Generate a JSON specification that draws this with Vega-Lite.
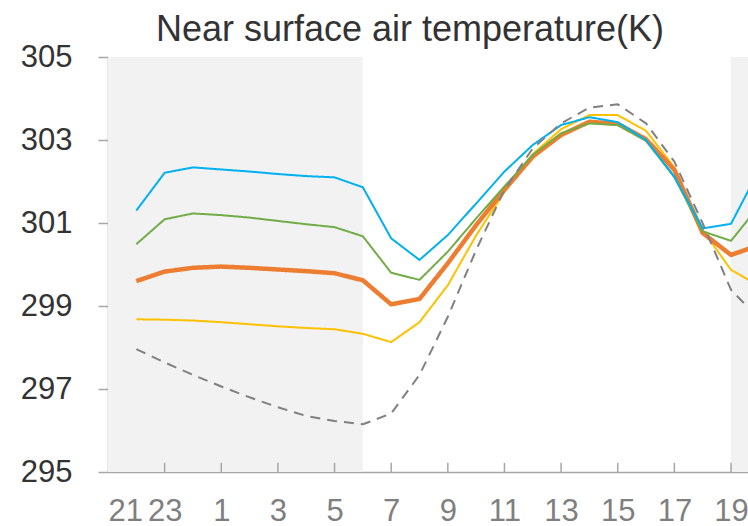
{
  "$schema": "https://vega.github.io/schema/vega-lite/v6.json",
  "width": 640,
  "height": 415,
  "autosize": {"type": "none"},
  "padding": {"left": 108, "top": 57, "right": 0, "bottom": 54},
  "background": "white",
  "config": {"view": {"stroke": null}},
  "title": {
    "text": "Near surface air temperature(K)",
    "font": "Liberation Sans",
    "fontSize": 36,
    "fontWeight": "normal",
    "color": "#333333",
    "anchor": "middle",
    "frame": "group",
    "dx": -18,
    "dy": 26,
    "offset": 18
  },
  "datasets": {
    "bands": [{"start": 0, "end": 9}, {"start": 22, "end": 24}],
    "ticks": [{"k": 2}, {"k": 4}, {"k": 6}, {"k": 8}, {"k": 10}, {"k": 12}, {"k": 14}, {"k": 16}, {"k": 18}, {"k": 20}, {"k": 22}],
    "temps": [
      {"k": 1, "s": "Yellow", "v": 298.68}, {"k": 2, "s": "Yellow", "v": 298.67}, {"k": 3, "s": "Yellow", "v": 298.65}, {"k": 4, "s": "Yellow", "v": 298.61}, {"k": 5, "s": "Yellow", "v": 298.56}, {"k": 6, "s": "Yellow", "v": 298.51}, {"k": 7, "s": "Yellow", "v": 298.47}, {"k": 8, "s": "Yellow", "v": 298.44}, {"k": 9, "s": "Yellow", "v": 298.33}, {"k": 10, "s": "Yellow", "v": 298.13}, {"k": 11, "s": "Yellow", "v": 298.61}, {"k": 12, "s": "Yellow", "v": 299.50}, {"k": 13, "s": "Yellow", "v": 300.70}, {"k": 14, "s": "Yellow", "v": 301.75}, {"k": 15, "s": "Yellow", "v": 302.66}, {"k": 16, "s": "Yellow", "v": 303.26}, {"k": 17, "s": "Yellow", "v": 303.60}, {"k": 18, "s": "Yellow", "v": 303.60}, {"k": 19, "s": "Yellow", "v": 303.22}, {"k": 20, "s": "Yellow", "v": 302.34}, {"k": 21, "s": "Yellow", "v": 300.83}, {"k": 22, "s": "Yellow", "v": 299.87}, {"k": 23, "s": "Yellow", "v": 299.48},
      {"k": 1, "s": "Orange", "v": 299.60}, {"k": 2, "s": "Orange", "v": 299.83}, {"k": 3, "s": "Orange", "v": 299.92}, {"k": 4, "s": "Orange", "v": 299.95}, {"k": 5, "s": "Orange", "v": 299.92}, {"k": 6, "s": "Orange", "v": 299.88}, {"k": 7, "s": "Orange", "v": 299.84}, {"k": 8, "s": "Orange", "v": 299.79}, {"k": 9, "s": "Orange", "v": 299.62}, {"k": 10, "s": "Orange", "v": 299.04}, {"k": 11, "s": "Orange", "v": 299.17}, {"k": 12, "s": "Orange", "v": 300.03}, {"k": 13, "s": "Orange", "v": 300.95}, {"k": 14, "s": "Orange", "v": 301.80}, {"k": 15, "s": "Orange", "v": 302.60}, {"k": 16, "s": "Orange", "v": 303.12}, {"k": 17, "s": "Orange", "v": 303.44}, {"k": 18, "s": "Orange", "v": 303.39}, {"k": 19, "s": "Orange", "v": 303.02}, {"k": 20, "s": "Orange", "v": 302.28}, {"k": 21, "s": "Orange", "v": 300.76}, {"k": 22, "s": "Orange", "v": 300.23}, {"k": 23, "s": "Orange", "v": 300.47},
      {"k": 1, "s": "Green", "v": 300.49}, {"k": 2, "s": "Green", "v": 301.09}, {"k": 3, "s": "Green", "v": 301.23}, {"k": 4, "s": "Green", "v": 301.19}, {"k": 5, "s": "Green", "v": 301.13}, {"k": 6, "s": "Green", "v": 301.05}, {"k": 7, "s": "Green", "v": 300.97}, {"k": 8, "s": "Green", "v": 300.90}, {"k": 9, "s": "Green", "v": 300.68}, {"k": 10, "s": "Green", "v": 299.80}, {"k": 11, "s": "Green", "v": 299.63}, {"k": 12, "s": "Green", "v": 300.31}, {"k": 13, "s": "Green", "v": 301.11}, {"k": 14, "s": "Green", "v": 301.88}, {"k": 15, "s": "Green", "v": 302.64}, {"k": 16, "s": "Green", "v": 303.16}, {"k": 17, "s": "Green", "v": 303.40}, {"k": 18, "s": "Green", "v": 303.36}, {"k": 19, "s": "Green", "v": 302.98}, {"k": 20, "s": "Green", "v": 302.10}, {"k": 21, "s": "Green", "v": 300.80}, {"k": 22, "s": "Green", "v": 300.57}, {"k": 23, "s": "Green", "v": 301.42},
      {"k": 1, "s": "Blue", "v": 301.30}, {"k": 2, "s": "Blue", "v": 302.21}, {"k": 3, "s": "Blue", "v": 302.34}, {"k": 4, "s": "Blue", "v": 302.29}, {"k": 5, "s": "Blue", "v": 302.24}, {"k": 6, "s": "Blue", "v": 302.18}, {"k": 7, "s": "Blue", "v": 302.13}, {"k": 8, "s": "Blue", "v": 302.10}, {"k": 9, "s": "Blue", "v": 301.86}, {"k": 10, "s": "Blue", "v": 300.63}, {"k": 11, "s": "Blue", "v": 300.11}, {"k": 12, "s": "Blue", "v": 300.71}, {"k": 13, "s": "Blue", "v": 301.47}, {"k": 14, "s": "Blue", "v": 302.24}, {"k": 15, "s": "Blue", "v": 302.88}, {"k": 16, "s": "Blue", "v": 303.36}, {"k": 17, "s": "Blue", "v": 303.55}, {"k": 18, "s": "Blue", "v": 303.43}, {"k": 19, "s": "Blue", "v": 303.00}, {"k": 20, "s": "Blue", "v": 302.12}, {"k": 21, "s": "Blue", "v": 300.87}, {"k": 22, "s": "Blue", "v": 300.98}, {"k": 23, "s": "Blue", "v": 302.29},
      {"k": 1, "s": "Gray", "v": 297.96}, {"k": 2, "s": "Gray", "v": 297.64}, {"k": 3, "s": "Gray", "v": 297.34}, {"k": 4, "s": "Gray", "v": 297.06}, {"k": 5, "s": "Gray", "v": 296.80}, {"k": 6, "s": "Gray", "v": 296.56}, {"k": 7, "s": "Gray", "v": 296.35}, {"k": 8, "s": "Gray", "v": 296.23}, {"k": 9, "s": "Gray", "v": 296.15}, {"k": 10, "s": "Gray", "v": 296.41}, {"k": 11, "s": "Gray", "v": 297.34}, {"k": 12, "s": "Gray", "v": 298.74}, {"k": 13, "s": "Gray", "v": 300.35}, {"k": 14, "s": "Gray", "v": 301.80}, {"k": 15, "s": "Gray", "v": 302.80}, {"k": 16, "s": "Gray", "v": 303.40}, {"k": 17, "s": "Gray", "v": 303.78}, {"k": 18, "s": "Gray", "v": 303.86}, {"k": 19, "s": "Gray", "v": 303.40}, {"k": 20, "s": "Gray", "v": 302.48}, {"k": 21, "s": "Gray", "v": 300.99}, {"k": 22, "s": "Gray", "v": 299.39}, {"k": 23, "s": "Gray", "v": 298.69}
    ]
  },
  "layer": [
    {
      "data": {"name": "bands"},
      "mark": {"type": "rect", "color": "#f2f2f2", "clip": true},
      "encoding": {
        "x": {"field": "start", "type": "quantitative", "scale": {"domain": [0, 22.6], "nice": false, "zero": false},
          "axis": {
            "values": [0, 2, 4, 6, 8, 10, 12, 14, 16, 18, 20, 22],
            "labelExpr": "(21 + datum.value) % 24",
            "title": null,
            "grid": false,
            "domainColor": "#a6a6a6",
            "domainWidth": 1.5,
            "ticks": false,
            "labelPadding": 48,
            "labelBaseline": "alphabetic",
            "labelFont": "Liberation Sans",
            "labelFontSize": 31,
            "labelColor": "#7f7f7f",
            "labelOverlap": false
          }},
        "x2": {"field": "end"},
        "y": {"datum": 295, "type": "quantitative"},
        "y2": {"datum": 305}
      }
    },
    {
      "data": {"name": "ticks"},
      "mark": {"type": "rule", "color": "#a6a6a6", "strokeWidth": 1.5},
      "encoding": {
        "x": {"field": "k", "type": "quantitative"},
        "y": {"datum": 295, "type": "quantitative"},
        "y2": {"datum": 295.22}
      }
    },
    {
      "data": {"name": "temps"},
      "mark": {"type": "line", "clip": true, "strokeJoin": "round"},
      "encoding": {
        "x": {"field": "k", "type": "quantitative"},
        "y": {"field": "v", "type": "quantitative", "scale": {"domain": [295, 305], "nice": false, "zero": false},
          "axis": {
            "values": [295, 297, 299, 301, 303, 305],
            "title": null,
            "grid": false,
            "domainColor": "#a6a6a6",
            "domainWidth": 1.5,
            "tickColor": "#a6a6a6",
            "tickWidth": 1.5,
            "tickSize": 10,
            "labelPadding": 26,
            "labelFont": "Liberation Sans",
            "labelFontSize": 31,
            "labelColor": "#333333"
          }},
        "color": {"field": "s", "type": "nominal", "legend": null, "sort": null,
          "scale": {"domain": ["Yellow", "Orange", "Green", "Blue", "Gray"], "range": ["#ffc000", "#ed7d31", "#70ad47", "#00b0f0", "#808080"]}},
        "strokeWidth": {"condition": {"test": "datum.s === 'Orange'", "value": 4.5}, "value": 2},
        "strokeDash": {"condition": {"test": "datum.s === 'Gray'", "value": [10, 7]}, "value": [1, 0]}
      }
    }
  ]
}
